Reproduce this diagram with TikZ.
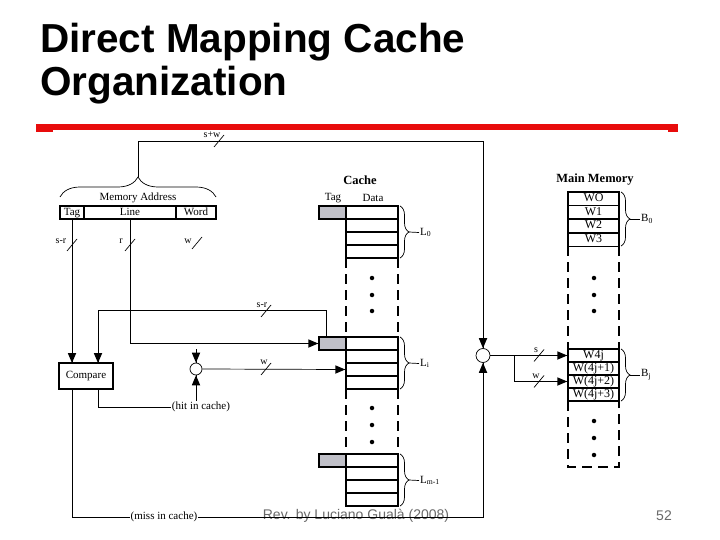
\documentclass[tikz,border=0pt]{standalone}
\usepackage{fontspec}
\setmainfont{Liberation Serif}
\newfontfamily\arialfont{Liberation Sans}
\usetikzlibrary{arrows.meta, positioning, decorations.pathreplacing}
\definecolor{tagfill}{RGB}{192,192,200}
\definecolor{rulered}{RGB}{232,12,12}
\definecolor{footgray}{RGB}{105,105,105}

\begin{document}
\begin{tikzpicture}[
    x=1pt, y=-1pt,
    txt/.style={inner sep=1pt, font=\fontsize{11}{12}\selectfont},
    lbl/.style={inner sep=1pt, font=\fontsize{10}{11}\selectfont},
    head/.style={inner sep=1pt, font=\bfseries\fontsize{12.5}{14}\selectfont},
    field node/.style={draw, line width=1.5pt, minimum height=13pt, inner sep=0pt, text height=7.5pt, text depth=2pt, font=\fontsize{11}{12}\selectfont},
    cache row/.style={draw, line width=1.5pt, minimum width=52pt, minimum height=13pt, inner sep=0pt},
    tag cell/.style={draw, line width=1.5pt, fill=tagfill, minimum width=27pt, minimum height=13pt, inner sep=0pt},
    mem row/.style={draw, line width=1.5pt, minimum width=51pt, minimum height=13pt, inner sep=0pt, text height=8pt, text depth=2.5pt, font=\fontsize{12}{13}\selectfont},
    side/.style={line width=2.5pt, dash pattern=on 10pt off 6pt},
    wire/.style={line width=0.7pt},
    brace/.style={decorate, decoration={brace, amplitude=#1}, line width=0.7pt},
    dot/.style={circle, fill, inner sep=0pt, minimum size=4.5pt},
    mux/.style={circle, draw, line width=0.7pt, inner sep=0pt, minimum size=#1}
]
    \useasboundingbox (0,0) rectangle (720,540);

    % Title and rule
    \node[anchor=base west, inner sep=0pt, font=\arialfont\bfseries\fontsize{40.5}{48}\selectfont] (title1) at (40,53) {Direct Mapping Cache};
    \node[anchor=base west, inner sep=0pt, font=\arialfont\bfseries\fontsize{40.5}{48}\selectfont] (title2) at (40,96) {Organization};
    \fill[rulered] (36,124) rectangle (678,130);
    \fill[rulered] (36,124) rectangle (53,132);
    \fill[rulered] (668,124) rectangle (678,132);

    % Footer
    \node[font=\arialfont\fontsize{14}{16}\selectfont, text=footgray, inner sep=0pt] (foot) at (356,516) {Rev. by Luciano Gualà (2008)};
    \node[font=\arialfont\fontsize{14}{16}\selectfont, text=footgray, inner sep=0pt] (page) at (664,516) {52};

    % Memory address
    \node[field node, minimum width=24pt] (tagf) at (72,212.5) {Tag};
    \node[field node, minimum width=92pt] (linef) at (130,212.5) {Line};
    \node[field node, minimum width=40pt] (wordf) at (196,212.5) {Word};
    \node[txt] (addr) at (138,198) {Memory Address};
    \draw[brace=20pt] (60,197) -- (216,197);
    \coordinate (addr tip) at (138,177);

    % Compare and selectors
    \node[draw, line width=1.5pt, minimum width=54pt, minimum height=26pt, inner sep=0pt, txt] (cmp) at (86,376) {Compare};
    \node[mux=12pt] (muxw) at (196,369) {};
    \node[mux=14pt] (muxm) at (483,355.5) {};
    \coordinate (wstub) at (196,349);
    \coordinate (split) at (514,355.5);
    \coordinate (cmp tag) at (72,363);
    \coordinate (cmp line) at (98,363);

    % Cache
    \node[head] (cachehd) at (360,180) {Cache};
    \node[txt] (tagh) at (333,198) {Tag};
    \node[txt] (datah) at (373,198) {Data};
    \foreach \i in {1,...,4} {
        \node[cache row] (l0\i) at (372,199.5+13*\i) {};
        \node[cache row] (li\i) at (372,330.5+13*\i) {};
        \node[cache row] (lm\i) at (372,447.5+13*\i) {};
    }
    \node[tag cell] (tag0) at (332.5,212.5) {};
    \node[tag cell] (tagi) at (332.5,343.5) {};
    \node[tag cell] (tagm) at (332.5,460.5) {};
    \draw[side] (346,258) -- (346,337);
    \draw[side] (398,258) -- (398,337);
    \draw[side] (346,389) -- (346,454);
    \draw[side] (398,389) -- (398,454);
    \foreach \y in {278,295,311,408,425,442}
        \node[dot] at (372,\y) {};
    \draw[brace=9pt] (400,206) -- (400,258);
    \draw[brace=9pt] (400,337) -- (400,389);
    \draw[brace=9pt] (400,454) -- (400,506);
    \node[txt, anchor=west] (lab0) at (419,232.5) {L\textsubscript{0}};
    \node[txt, anchor=west] (labi) at (419,363.5) {L\textsubscript{i}};
    \node[txt, anchor=west] (labm) at (419,480.5) {L\textsubscript{m-1}};
    \draw[wire] (409,232) -- (lab0.west);
    \draw[wire] (409,363) -- (labi.west);
    \draw[wire] (409,480) -- (labm.west);

    % Main memory
    \node[head] (memhd) at (595,180) {Main Memory};
    \foreach \w [count=\i] in {WO, W1, W2, W3}
        \node[mem row, minimum height=13.5pt] (b0\i) at (593.5,185.5+13.5*\i) {\w};
    \foreach \w [count=\i] in {W4j, W(4j+1), W(4j+2), W(4j+3)}
        \node[mem row] (bj\i) at (593.5,342.5+13*\i) {\w};
    \draw[side] (568,246) -- (568,349);
    \draw[side] (619,246) -- (619,349);
    \draw[side] (568,401) -- (568,467) -- (619,467) -- (619,401);
    \foreach \y in {278,295,311,421,438,455}
        \node[dot] at (594,\y) {};
    \draw[brace=9pt] (621,192) -- (621,246);
    \draw[brace=9pt] (621,349) -- (621,401);
    \node[txt, anchor=west] (labb0) at (640,219) {B\textsubscript{0}};
    \node[txt, anchor=west] (labbj) at (640,375) {B\textsubscript{j}};
    \draw[wire] (630,219) -- (labb0.west);
    \draw[wire] (630,375) -- (labbj.west);

    % Bus widths
    \foreach \bx/\by in {219/141, 72/245, 130/245, 197/243, 266/311, 266/369, 539/355.5, 539/381.5}
        \draw[wire] (\bx-5,\by+6) -- (\bx+5,\by-6);
    \node[lbl] (bsw) at (212,135) {s+w};
    \node[lbl] (bsr1) at (61,241) {s-r};
    \node[lbl] (br) at (121,241) {r};
    \node[lbl] (bw1) at (188,241) {w};
    \node[lbl] (bsr2) at (262,305) {s-r};
    \node[lbl] (bw2) at (264,362) {w};
    \node[lbl] (bs3) at (536,350) {s};
    \node[lbl] (bw3) at (536,376) {w};

    % Connectors
    \node[txt] (hit) at (201,407) {(hit in cache)};
    \node[txt] (miss) at (164,517) {(miss in cache)};
    \draw[wire] ([xshift=12pt]cmp.south) |- (hit.west);
    \draw[wire] ([xshift=-14pt]cmp.south) |- (miss.west);
    \draw[wire] (muxm.east) -- (split);
    \draw[wire] (addr tip) -- ++(0,-36) -| (muxm.north);
    \draw[wire] (tagf.south) -- (cmp tag);
    \draw[wire] (linef.south) |- (tagi.west);
    \draw[wire] ([xshift=-6pt]tagi.north) -- ++(0,-26) -| (cmp line);
    \draw[wire] (wstub) -- (muxw.north);
    \draw[wire] (muxw.east) -- (li3.west);
    \draw[wire] (hit.north -| muxw.south) -- (muxw.south);
    \draw[wire] (miss.east) -| (muxm.south);
    \draw[wire] (split) -- (bj1.west);
    \draw[wire] (split) |- (bj3.west);

    % Arrowheads
    \foreach \a in {muxm.north, cmp tag, cmp line, muxw.north}
        \fill (\a) -- ++(-4.25,-10) -- ++(8.5,0) -- cycle;
    \foreach \a in {muxm.south, muxw.south}
        \fill (\a) -- ++(-4.25,10) -- ++(8.5,0) -- cycle;
    \foreach \a in {tagi.west, li3.west, bj1.west, bj3.west}
        \fill (\a) -- ++(-10,-4.25) -- ++(0,8.5) -- cycle;
\end{tikzpicture}
\end{document}
